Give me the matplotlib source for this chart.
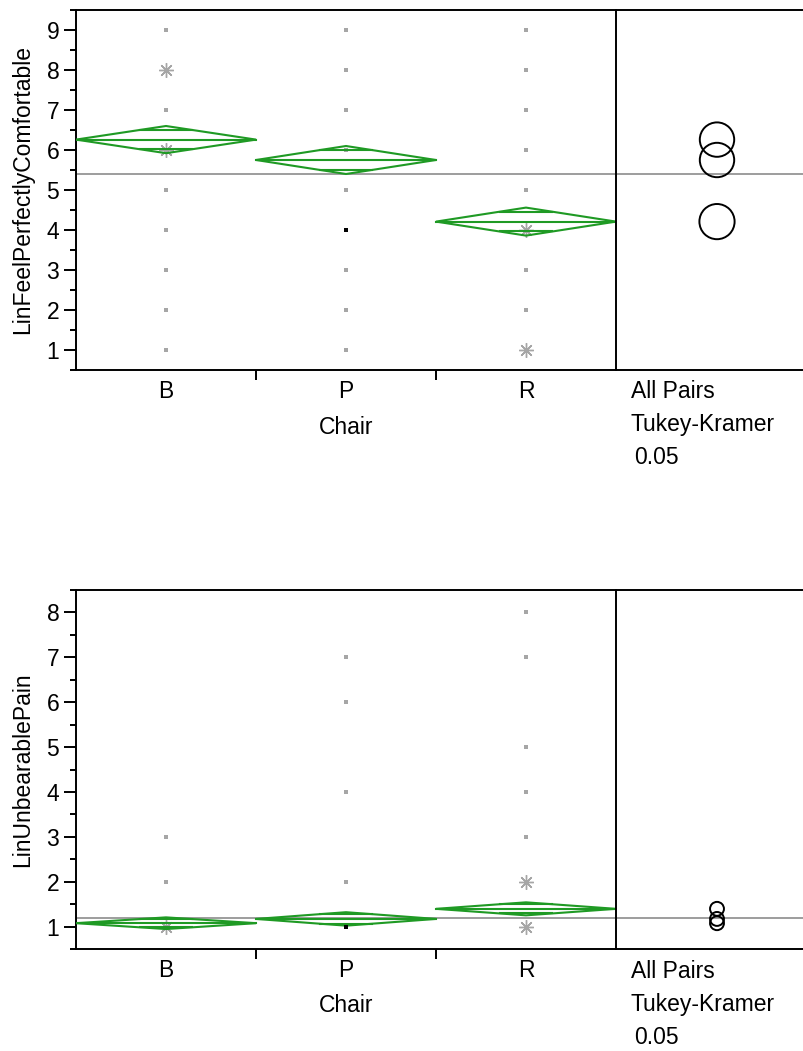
import numpy as np
import matplotlib
matplotlib.use("Agg")
import matplotlib.pyplot as plt
from matplotlib.patches import Polygon, Ellipse

plt.rcParams['font.family'] = ['Liberation Sans', 'DejaVu Sans']

groups = ['B', 'P', 'R']

# LinFeelPerfectlyComfortable
comfort_means = [6.26, 5.75, 4.21]
comfort_ci = [0.34, 0.35, 0.35]
comfort_grand = 5.4
comfort_circle_r = [0.43, 0.43, 0.44]
comfort_pts = {'B': [9, 7, 5, 4, 3, 2, 1], 'P': [9, 8, 7, 6, 5, 3, 2, 1], 'R': [9, 8, 7, 6, 5, 3, 2]}
comfort_star = {'B': [8, 6], 'P': [], 'R': [4, 1]}
comfort_black = {'B': [], 'P': [4], 'R': []}

# LinUnbearablePain
pain_means = [1.075, 1.17, 1.395]
pain_ci = [0.13, 0.15, 0.145]
pain_grand = 1.2
pain_circle_r = [0.155, 0.155, 0.155]
pain_pts = {'B': [3, 2], 'P': [7, 6, 4, 2], 'R': [8, 7, 5, 4, 3]}
pain_star = {'B': [1], 'P': [], 'R': [2, 1]}
pain_black = {'B': [], 'P': [1], 'R': []}

W, H = 804, 1051
GREEN = '#1f9a24'
GRAY = '#a6a6a6'
FS = 16.5

fig = plt.figure(figsize=(W / 100, H / 100), dpi=100)


def frac(x0, y0, x1, y1):
    return [x0 / W, 1 - y1 / H, (x1 - x0) / W, (y1 - y0) / H]


def panel(top, bot, ymax, ylabel, means, ci, grand, circ_r, pts, star, black):
    ax = fig.add_axes(frac(76, top, 616, bot))
    axr = fig.add_axes(frac(616, top, 803, bot), sharey=ax)
    ax.set_xlim(-0.5, 2.5)
    ax.set_ylim(0.5, ymax + 0.5)

    for i, g in enumerate(groups):
        m, h = means[i], ci[i]
        ax.add_patch(Polygon([[i - 0.5, m], [i, m + h], [i + 0.5, m], [i, m - h]],
                             closed=True, fill=False, ec=GREEN, lw=1.5, zorder=3))
        ax.plot([i - 0.5, i + 0.5], [m, m], color=GREEN, lw=1.5, zorder=3)
        d = h / np.sqrt(2)
        hw = 0.5 * (1 - 1 / np.sqrt(2))
        for s in (1, -1):
            ax.plot([i - hw, i + hw], [m + s * d, m + s * d], color=GREEN, lw=1.5, zorder=3)
        ax.plot([i] * len(pts[g]), pts[g], 's', color=GRAY, ms=2.5, mew=0, zorder=2)
        ax.plot([i] * len(star[g]), star[g], marker=(8, 2, 0), ls='none', color=GRAY,
                ms=10.5, mew=1.0, zorder=2)
        ax.plot([i] * len(black[g]), black[g], 's', color='black', ms=2.5, mew=0, zorder=4)

    ax.axhline(grand, color='#8c8c8c', lw=1.2, zorder=1)
    axr.axhline(grand, color='#8c8c8c', lw=1.2, zorder=1)

    # comparison circles, kept round in pixel space
    ppy = (bot - top) / ymax
    axr.set_xlim(0, 187)
    for i in range(len(groups)):
        r = circ_r[i]
        axr.add_patch(Ellipse((101, means[i]), 2 * r * ppy, 2 * r, fill=False,
                              ec='black', lw=1.4, zorder=3))

    for a in (ax, axr):
        for sp in a.spines.values():
            sp.set_linewidth(1.4)
    ax.spines['right'].set_visible(False)
    axr.spines['right'].set_visible(False)

    ax.set_yticks(range(1, ymax + 1))
    ax.set_yticks(np.arange(0.5, ymax + 0.6, 1), minor=True)
    ax.set_xticks([0.5, 1.5])
    ax.set_xticklabels([])
    ax.set_xticks(range(len(groups)), minor=True)
    ax.set_xticklabels(groups, minor=True)
    ax.tick_params(axis='y', which='major', length=9, width=1.4, labelsize=FS, pad=3)
    ax.tick_params(axis='y', which='minor', length=4.5, width=1.4)
    ax.tick_params(axis='x', which='major', length=7, width=1.4)
    ax.tick_params(axis='x', which='minor', length=0, labelsize=FS, pad=7)
    axr.tick_params(which='both', left=False, bottom=False, labelleft=False, labelbottom=False)

    fig.text(23 / W, 1 - (top + bot) / 2 / H, ylabel, rotation=90, fontsize=FS,
             ha='center', va='center')
    fig.text(346 / W, 1 - (bot + 57) / H, 'Chair', fontsize=FS, ha='center', va='center')
    fig.text(631 / W, 1 - (bot + 22) / H, 'All Pairs', fontsize=FS, ha='left', va='center')
    fig.text(631 / W, 1 - (bot + 55) / H, 'Tukey-Kramer', fontsize=FS, ha='left', va='center')
    fig.text(634 / W, 1 - (bot + 88) / H, '0.05', fontsize=FS, ha='left', va='center')


panel(10, 370, 9, 'LinFeelPerfectlyComfortable', comfort_means, comfort_ci, comfort_grand,
      comfort_circle_r, comfort_pts, comfort_star, comfort_black)
panel(590, 949, 8, 'LinUnbearablePain', pain_means, pain_ci, pain_grand,
      pain_circle_r, pain_pts, pain_star, pain_black)

fig.savefig('out.png', dpi=100)
